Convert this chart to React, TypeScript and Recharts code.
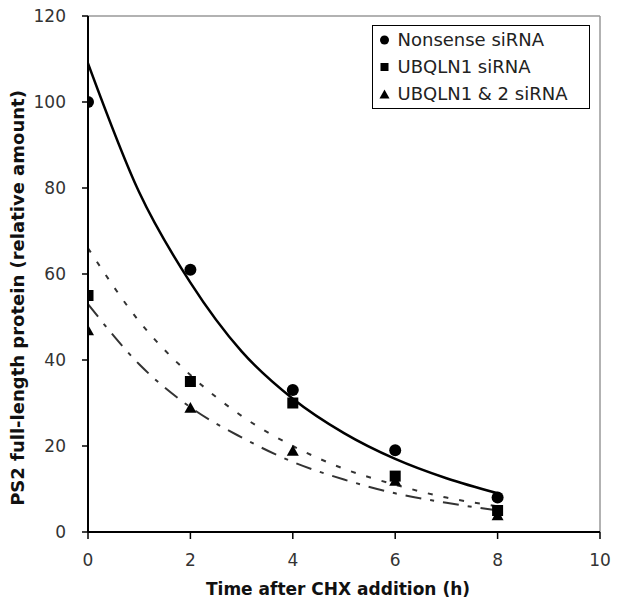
import {
  ComposedChart,
  Line,
  Scatter,
  XAxis,
  YAxis,
  Legend,
  ReferenceLine,
  Label,
} from "recharts";

// ---------------------------------------------------------------------------
// Data
// ---------------------------------------------------------------------------

const hours = [0, 2, 4, 6, 8];
const nonsense = [100, 61, 33, 19, 8];
const ubqln1 = [55, 35, 30, 13, 5];
const ubqln12 = [47, 29, 19, 12, 4];

// trend curves, sampled by eye every hour
const fitHours = [0, 1, 2, 3, 4, 5, 6, 7, 8];
const nonsenseFit = [109, 79, 58, 42, 31, 23, 17, 12.5, 9];
const ubqln1Fit = [66, 49, 36.5, 27, 20, 14.7, 11, 8, 6];
const ubqln12Fit = [53, 39, 29, 22, 16.3, 12.2, 9, 6.8, 5];

const seriesNames = ["Nonsense siRNA", "UBQLN1 siRNA", "UBQLN1 & 2 siRNA"];

const xTicks = [0, 2, 4, 6, 8, 10];
const yTicks = [0, 20, 40, 60, 80, 100, 120];

const toPoints = (xs: number[], ys: number[]) =>
  xs.map((x, i) => ({ x, y: ys[i] }));

document.body.style.margin = "0";

const FONT = "'DejaVu Sans', sans-serif";

// ---------------------------------------------------------------------------
// Marker shapes
// ---------------------------------------------------------------------------

type Mark = "circle" | "square" | "triangle";
const marks: Mark[] = ["circle", "square", "triangle"];
const markSize: Record<Mark, number> = { circle: 12, square: 11, triangle: 12 };
const legendMarkSize: Record<Mark, number> = { circle: 9, square: 8, triangle: 10 };

function drawMark(kind: Mark, cx: number, cy: number, s: number) {
  if (kind === "circle") return <circle cx={cx} cy={cy} r={s / 2} fill="#000" />;
  if (kind === "square")
    return <rect x={cx - s / 2} y={cy - s / 2} width={s} height={s} fill="#000" />;
  const h = s * 0.9;
  return (
    <polygon
      points={`${cx},${cy - h / 2} ${cx + s / 2},${cy + h / 2} ${cx - s / 2},${cy + h / 2}`}
      fill="#000"
    />
  );
}

const markShape = (kind: Mark) => (p: any) =>
  drawMark(kind, p.cx, p.cy, markSize[kind]);

// ---------------------------------------------------------------------------
// Legend + titles
// ---------------------------------------------------------------------------

function LegendBox() {
  return (
    <div
      style={{
        boxSizing: "border-box",
        width: 218,
        height: 84,
        border: "1.5px solid #000",
        background: "#fff",
        fontFamily: FONT,
        fontSize: 18,
        color: "#222",
      }}
    >
      {seriesNames.map((name, i) => (
        <div key={name} style={{ display: "flex", alignItems: "center", height: 27 }}>
          <svg width={24.5} height={16} style={{ flex: "none" }}>
            {drawMark(marks[i], 11.5, 8, legendMarkSize[marks[i]])}
          </svg>
          <span>{name}</span>
        </div>
      ))}
    </div>
  );
}

function XTitle(props: any) {
  const { x, y, width } = props.viewBox;
  return (
    <text
      x={x + width / 2 - 6}
      y={y + 57}
      textAnchor="middle"
      dominantBaseline="central"
      fontFamily={FONT}
      fontSize={17}
      fontWeight="bold"
      fill="#111"
    >
      Time after CHX addition (h)
    </text>
  );
}

function YTitle(props: any) {
  const { x, y, height } = props.viewBox;
  const cx = x + 17;
  const cy = y + height / 2 + 24;
  return (
    <text
      x={cx}
      y={cy}
      transform={`rotate(-90 ${cx} ${cy})`}
      textAnchor="middle"
      dominantBaseline="central"
      fontFamily={FONT}
      fontSize={18}
      fontWeight="bold"
      fill="#111"
    >
      PS2 full-length protein (relative amount)
    </text>
  );
}

// ---------------------------------------------------------------------------
// Chart
// ---------------------------------------------------------------------------

const tickStyle = { fill: "#333", fontSize: 17, fontFamily: FONT };

export default function App() {
  return (
    <ComposedChart
      width={617}
      height={610}
      margin={{ top: 16, right: 17, bottom: 48, left: 0 }}
    >
      <XAxis
        type="number"
        dataKey="x"
        domain={[0, 10]}
        ticks={xTicks}
        height={30}
        tickSize={7}
        tickMargin={15}
        axisLine={{ stroke: "#000", strokeWidth: 2 }}
        tickLine={{ stroke: "#000", strokeWidth: 1.5 }}
        tick={tickStyle}
        allowDataOverflow
      >
        <Label content={XTitle} />
      </XAxis>
      <YAxis
        type="number"
        dataKey="y"
        domain={[0, 120]}
        ticks={yTicks}
        width={88}
        tickSize={6}
        tickMargin={16}
        axisLine={{ stroke: "#000", strokeWidth: 2 }}
        tickLine={{ stroke: "#000", strokeWidth: 1.5 }}
        tick={tickStyle}
        allowDataOverflow
      >
        <Label content={YTitle} />
      </YAxis>

      <ReferenceLine y={120} stroke="#999" strokeWidth={1.5} />
      <ReferenceLine x={10} stroke="#999" strokeWidth={1.5} />

      <Line
        data={toPoints(fitHours, nonsenseFit)}
        dataKey="y"
        type="monotone"
        stroke="#000"
        strokeWidth={2.5}
        dot={false}
        legendType="none"
        isAnimationActive={false}
      />
      <Line
        data={toPoints(fitHours, ubqln1Fit)}
        dataKey="y"
        type="monotone"
        stroke="#333"
        strokeWidth={2}
        strokeDasharray="5 11"
        dot={false}
        legendType="none"
        isAnimationActive={false}
      />
      <Line
        data={toPoints(fitHours, ubqln12Fit)}
        dataKey="y"
        type="monotone"
        stroke="#333"
        strokeWidth={2}
        strokeDasharray="16 9 4 9"
        dot={false}
        legendType="none"
        isAnimationActive={false}
      />

      <Scatter
        name={seriesNames[0]}
        data={toPoints(hours, nonsense)}
        dataKey="y"
        shape={markShape("circle")}
        isAnimationActive={false}
      />
      <Scatter
        name={seriesNames[1]}
        data={toPoints(hours, ubqln1)}
        dataKey="y"
        shape={markShape("square")}
        isAnimationActive={false}
      />
      <Scatter
        name={seriesNames[2]}
        data={toPoints(hours, ubqln12)}
        dataKey="y"
        shape={markShape("triangle")}
        isAnimationActive={false}
      />

      <Legend
        layout="vertical"
        align="center"
        verticalAlign="middle"
        content={LegendBox}
        wrapperStyle={{ left: 372, top: 25, width: 218, height: 84 }}
      />
    </ComposedChart>
  );
}
